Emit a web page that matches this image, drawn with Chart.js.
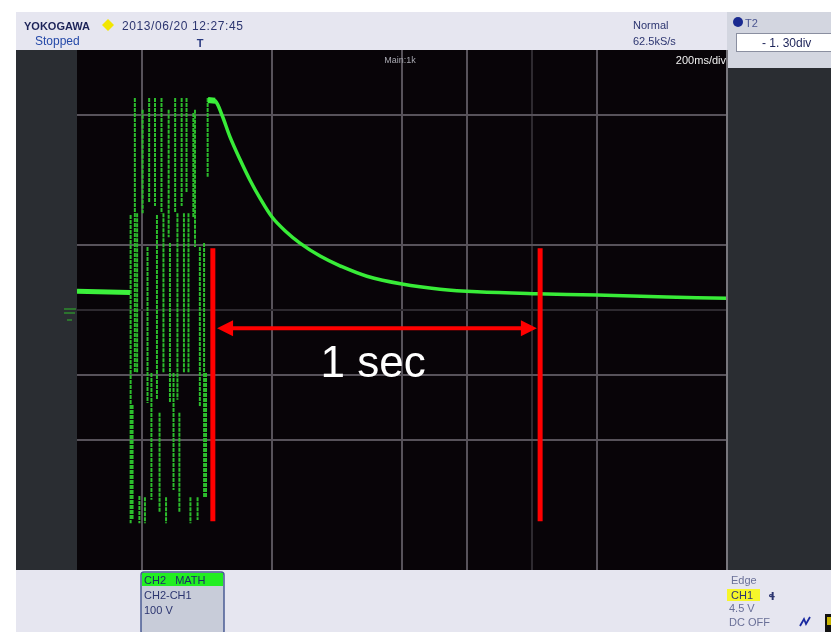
<!DOCTYPE html>
<html>
<head>
<meta charset="utf-8">
<script src="https://cdn.jsdelivr.net/npm/chart.js@4.4.1/dist/chart.umd.min.js"></script>
<style>
html, body { margin: 0; padding: 0; background: #ffffff; }
#wrap { width: 831px; height: 632px; }
</style>
</head>
<body>
<div id="wrap"><canvas id="scope" width="831" height="632"></canvas></div>
<script>
//Echelles : 200 ms/div en x, 100 V/div en y (CH2 MATH)
const timeMin = 0, timeMax = 2000, timeStep = 200;
const voltMin = -400, voltMax = 400, voltStep = 100;

//Lignes de grille visibles sur la capture
const gridTimes = [200, 600, 1000, 1200, 1400, 1600];
const gridTimesDim = [1400];
const gridVolts = [300, 100, 0, -100, -200];
const gridVoltsDim = [0];

//Niveau avant la salve
const preTime = [0, 163];
const preVolt = [29, 27];

//Salve : un trait vertical par impulsion (temps, haut, bas)
const burstTime = [165, 171, 178, 185, 192, 202, 209, 217, 222, 229, 240, 246, 254, 260, 266, 274, 282,
    286, 297, 302, 309, 315, 322, 329, 337, 343, 349, 358, 363, 371, 378, 391, 397, 402];
const burstHigh = [146, -146, 326, 149, -286, 308, -288, 97, 326, -97, 326, 146, -158, 326, 149, -288, 308,
    103, -97, 326, 149, -158, 326, 149, 326, 149, -288, 303, 308, -288, 97, 103, -97, 326];
const burstLow = [-328, -323, -97, -97, -328, 149, -328, -143, 165, -292, 160, -138, -312, 149, -97, -328, 112,
    -143, -277, 150, -138, -312, 160, -97, 180, -97, -328, 143, 97, -323, -149, -288, -288, 205];

//Plateau puis décroissance
const decayTime = [403, 425, 446, 471, 502, 532, 563, 600, 640, 686, 748, 809, 892, 1000, 1117, 1231, 1415, 1600, 1815, 2000];
const decayVolt = [323, 322, 300, 266, 231, 200, 172, 143, 122, 103, 83, 68, 52, 40, 32, 28, 25, 23, 20, 18];

//Annotation rouge "1 sec"
const markerTimes = [418, 1425];
const markerVolts = [95, -325];
const arrowTimes = [431, 1415];
const arrowVolt = -28;
const labelTime = 911;
const labelVolt = -84;
const labelText = '1 sec';

//Construction des points
let preData = [];
for (let i = 0; i < preTime.length; i++) {
    preData.push({ x: preTime[i], y: preVolt[i] });
}

let burstData = [];
for (let i = 0; i < burstTime.length; i++) {
    burstData.push({ x: burstTime[i], y: burstHigh[i] });
    burstData.push({ x: burstTime[i], y: burstLow[i] });
    burstData.push({ x: burstTime[i], y: null });
}

let decayData = [];
for (let i = 0; i < decayTime.length; i++) {
    decayData.push({ x: decayTime[i], y: decayVolt[i] });
}

//Fonds, cadres et textes de l'oscilloscope
function txt(ctx, s, x, y, font, color, align) {
    ctx.font = font;
    ctx.fillStyle = color;
    ctx.textAlign = align || 'left';
    ctx.textBaseline = 'alphabetic';
    ctx.fillText(s, x, y);
}

const panelPlugin = {
    id: 'panel',
    beforeDraw(chart) {
        const ctx = chart.ctx;
        const a = chart.chartArea;
        ctx.save();
        ctx.fillStyle = '#ffffff';
        ctx.fillRect(0, 0, 831, 632);
        //barres claires
        ctx.fillStyle = '#e6e6f0';
        ctx.fillRect(16, 12, 815, a.top - 12);
        ctx.fillRect(16, a.bottom, 815, 632 - a.bottom);
        //panneaux sombres
        ctx.fillStyle = '#2a2d32';
        ctx.fillRect(16, a.top, a.left - 16, a.bottom - a.top);
        ctx.fillRect(a.right, 68, 831 - a.right, a.bottom - 68);
        //zone T2
        ctx.fillStyle = '#d3d6e0';
        ctx.fillRect(a.right, 12, 831 - a.right, 56);
        //écran
        ctx.fillStyle = '#080408';
        ctx.fillRect(a.left, a.top, a.right - a.left, a.bottom - a.top);
        ctx.restore();
    },
    afterDraw(chart) {
        const ctx = chart.ctx;
        const a = chart.chartArea;
        ctx.save();
        //bord droit de l'écran
        ctx.strokeStyle = '#77767c';
        ctx.lineWidth = 2;
        ctx.beginPath();
        ctx.moveTo(a.right, a.top);
        ctx.lineTo(a.right, a.bottom);
        ctx.stroke();

        //en-tête
        txt(ctx, 'YOKOGAWA', 24, 30, 'bold 11px "Liberation Sans"', '#1c2358');
        ctx.fillStyle = '#f2e600';
        ctx.beginPath();
        ctx.moveTo(108, 19); ctx.lineTo(114, 25); ctx.lineTo(108, 31); ctx.lineTo(102, 25);
        ctx.closePath(); ctx.fill();
        ctx.letterSpacing = '0.6px';
        txt(ctx, '2013/06/20 12:27:45', 122, 30, '12px "Liberation Sans"', '#2c3570');
        ctx.letterSpacing = '0px';
        txt(ctx, 'Stopped', 35, 45, '12px "Liberation Sans"', '#2448a8');
        txt(ctx, 'T', 200, 47, 'bold 11px "Liberation Sans"', '#2a3a80', 'center');
        txt(ctx, 'Normal', 633, 29, '11px "Liberation Sans"', '#2c3570');
        txt(ctx, '62.5kS/s', 633, 45, '11px "Liberation Sans"', '#2c3570');

        //T2
        ctx.fillStyle = '#1a2a90';
        ctx.beginPath(); ctx.arc(738, 22, 5, 0, Math.PI * 2); ctx.fill();
        txt(ctx, 'T2', 745, 27, '11px "Liberation Sans"', '#4a5590');
        ctx.fillStyle = '#ffffff';
        ctx.fillRect(736, 33, 95, 19);
        ctx.strokeStyle = '#8a8fa0';
        ctx.lineWidth = 1;
        ctx.strokeRect(736.5, 33.5, 95, 18);
        txt(ctx, '- 1. 30div', 762, 47, '12px "Liberation Sans"', '#1c2358');

        //textes de l'écran
        txt(ctx, '200ms/div', a.right - 1, 64, '11px "Liberation Sans"', '#f0f0f0', 'right');
        txt(ctx, 'Main:1k', 400, 63, '9px "Liberation Sans"', '#a8a8b0', 'center');

        //repère de niveau à gauche
        ctx.strokeStyle = '#2e8a2e';
        ctx.lineWidth = 1.5;
        ctx.beginPath();
        ctx.moveTo(64, 309); ctx.lineTo(76, 309);
        ctx.moveTo(64, 313); ctx.lineTo(75, 313);
        ctx.moveTo(67, 320); ctx.lineTo(72, 320);
        ctx.stroke();

        //boîte CH2 MATH
        ctx.fillStyle = '#c8ccd9';
        ctx.strokeStyle = '#4b5c94';
        ctx.lineWidth = 1.5;
        ctx.beginPath();
        ctx.roundRect(141, 572, 83, 62, 3);
        ctx.fill(); ctx.stroke();
        ctx.fillStyle = '#22ee22';
        ctx.fillRect(142, 573, 81, 13);
        txt(ctx, 'CH2   MATH', 144, 584, '11px "Liberation Sans"', '#1c2a6a');
        txt(ctx, 'CH2-CH1', 144, 599, '11px "Liberation Sans"', '#2c3570');
        txt(ctx, '100 V', 144, 614, '11px "Liberation Sans"', '#2c3570');

        //déclenchement
        txt(ctx, 'Edge', 731, 584, '11px "Liberation Sans"', '#6a7098');
        ctx.fillStyle = '#f6f62a';
        ctx.fillRect(727, 589, 33, 12);
        txt(ctx, 'CH1', 731, 599, '11px "Liberation Sans"', '#2c3570');
        txt(ctx, 'ɬ', 768, 600, 'bold 11px "DejaVu Sans"', '#2c3570');
        txt(ctx, '4.5 V', 729, 612, '11px "Liberation Sans"', '#6a7098');
        txt(ctx, 'DC OFF', 729, 626, '11px "Liberation Sans"', '#6a7098');
        ctx.strokeStyle = '#1a2aa0';
        ctx.lineWidth = 1.8;
        ctx.beginPath();
        ctx.moveTo(800, 626); ctx.lineTo(804, 619); ctx.lineTo(806, 624); ctx.lineTo(810, 617);
        ctx.stroke();
        ctx.fillStyle = '#111111';
        ctx.fillRect(825, 614, 6, 18);
        ctx.fillStyle = '#c8b400';
        ctx.fillRect(827, 617, 4, 8);
        ctx.restore();
    }
};

//Annotation rouge par-dessus la trace
const notePlugin = {
    id: 'note',
    afterDatasetsDraw(chart) {
        const ctx = chart.ctx;
        const sx = chart.scales.x;
        const sy = chart.scales.y;
        ctx.save();
        ctx.strokeStyle = '#ff0000';
        ctx.fillStyle = '#ff0000';
        ctx.lineWidth = 5;
        const yTop = sy.getPixelForValue(markerVolts[0]);
        const yBot = sy.getPixelForValue(markerVolts[1]);
        markerTimes.forEach(function (t) {
            const x = sx.getPixelForValue(t);
            ctx.beginPath();
            ctx.moveTo(x, yTop);
            ctx.lineTo(x, yBot);
            ctx.stroke();
        });
        const x1 = sx.getPixelForValue(arrowTimes[0]);
        const x2 = sx.getPixelForValue(arrowTimes[1]);
        const ya = sy.getPixelForValue(arrowVolt);
        ctx.lineWidth = 4;
        ctx.beginPath();
        ctx.moveTo(x1 + 10, ya);
        ctx.lineTo(x2 - 10, ya);
        ctx.stroke();
        ctx.beginPath();
        ctx.moveTo(x1, ya); ctx.lineTo(x1 + 16, ya - 8); ctx.lineTo(x1 + 16, ya + 8);
        ctx.closePath(); ctx.fill();
        ctx.beginPath();
        ctx.moveTo(x2, ya); ctx.lineTo(x2 - 16, ya - 8); ctx.lineTo(x2 - 16, ya + 8);
        ctx.closePath(); ctx.fill();
        ctx.font = '44px "Liberation Sans"';
        ctx.fillStyle = '#ffffff';
        ctx.textAlign = 'center';
        ctx.textBaseline = 'middle';
        ctx.fillText(labelText, sx.getPixelForValue(labelTime), sy.getPixelForValue(labelVolt));
        ctx.restore();
    }
};

//Couleur de grille selon la ligne
function gridColor(value, list, dim) {
    if (dim.indexOf(value) >= 0) return '#2e2a30';
    if (list.indexOf(value) >= 0) return '#57525a';
    return 'rgba(0,0,0,0)';
}

//Graphique
const ctx = document.getElementById('scope').getContext('2d');
const scopeChart = new Chart(ctx, {
    type: 'scatter',
    data: {
        datasets: [
            {
                label: 'plateau',
                data: decayData.slice(0, 2),
                showLine: true,
                borderColor: '#3cf03c',
                borderWidth: 6,
                pointRadius: 0
            },
            {
                label: 'decay',
                data: decayData,
                showLine: true,
                borderColor: '#38ec38',
                borderWidth: 3.5,
                tension: 0.35,
                pointRadius: 0
            },
            {
                label: 'pre',
                data: preData,
                showLine: true,
                borderColor: '#3cf03c',
                borderWidth: 5,
                pointRadius: 0
            },
            {
                label: 'burst',
                data: burstData,
                showLine: true,
                spanGaps: false,
                borderColor: '#2cbc2c',
                borderWidth: 2,
                borderDash: [4, 1],
                pointRadius: 0
            }
        ]
    },
    options: {
        responsive: false,
        animation: false,
        events: [],
        layout: {
            padding: { left: 77, top: 50, right: 104, bottom: 62 }
        },
        plugins: {
            legend: { display: false },
            tooltip: { enabled: false }
        },
        scales: {
            x: {
                type: 'linear',
                min: timeMin,
                max: timeMax,
                ticks: { display: false, stepSize: timeStep },
                border: { display: false },
                grid: {
                    drawTicks: false,
                    lineWidth: 2,
                    color: (c) => gridColor(c.tick.value, gridTimes, gridTimesDim)
                }
            },
            y: {
                type: 'linear',
                min: voltMin,
                max: voltMax,
                ticks: { display: false, stepSize: voltStep },
                border: { display: false },
                grid: {
                    drawTicks: false,
                    lineWidth: 2,
                    color: (c) => gridColor(c.tick.value, gridVolts, gridVoltsDim)
                }
            }
        }
    },
    plugins: [panelPlugin, notePlugin]
});
</script>
</body>
</html>
